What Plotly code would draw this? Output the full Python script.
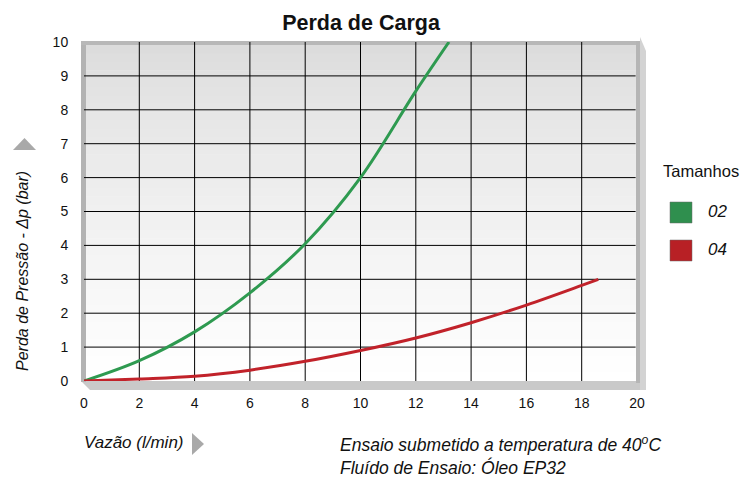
import plotly.graph_objects as go

# ---------------- data ----------------
flow_02 = [0, 2, 4, 6, 8, 10, 12, 13.2]
dp_02 = [0, 0.6, 1.45, 2.6, 4.05, 6.0, 8.55, 10.0]
flow_04 = [0, 2, 4, 6, 8, 10, 12, 14, 16, 18, 18.6]
dp_04 = [0, 0.06, 0.14, 0.32, 0.58, 0.9, 1.27, 1.72, 2.24, 2.82, 3.0]
series_names = ["02", "04"]
x_ticks = list(range(0, 21, 2))
y_ticks = list(range(0, 11))
title_text = "Perda de Carga"
y_title = "Perda de Pressão - Δp (bar)"
x_title = "Vazão (l/min)"
legend_title = "Tamanhos"
notes = ["Ensaio submetido a temperatura de 40<sup>o</sup>C", "Fluído de Ensaio: Óleo EP32"]

# ---------------- style ----------------
W, H = 756, 477
ML, MR, MT, MB = 84, 119, 42, 96
PW, PH = W - ML - MR, H - MT - MB
FONT = "Liberation Sans, Arial, Helvetica, sans-serif"
colors = ["#2e9a50", "#c1222a"]
sq_colors = ["#2f8f4e", "#b82025"]


def px(x):
    return (x - ML) / PW


def py(y):
    return (MT + PH - y) / PH


fig = go.Figure()
for xs, ys, name, c in [(flow_02, dp_02, series_names[0], colors[0]),
                        (flow_04, dp_04, series_names[1], colors[1])]:
    fig.add_trace(go.Scatter(x=xs, y=ys, mode="lines", name=name,
                             line=dict(color=c, width=3, shape="spline", smoothing=1.0),
                             cliponaxis=False, showlegend=False, hoverinfo="x+y+name"))

shapes = []
# gradient background of plot area
n = 40
top, bot = 45, 381
for i in range(n):
    y0 = top + (bot - top) * i / n
    y1 = top + (bot - top) * (i + 1) / n
    t = i / (n - 1)
    v = int(round(220 + (255 - 220) * (t ** 0.8)))
    shapes.append(dict(type="rect", xref="paper", yref="paper", layer="below",
                       x0=px(86), x1=px(636), y0=py(y1 + 0.5), y1=py(y0),
                       fillcolor=f"rgb({v},{v},{v})", line=dict(width=0)))


def path(points, fill):
    d = "M " + " L ".join(f"{px(a)},{py(b)}" for a, b in points) + " Z"
    return dict(type="path", xref="paper", yref="paper", layer="below", path=d,
                fillcolor=fill, line=dict(width=0))


# frame
shapes.append(path([(81, 381), (646, 381), (646, 390), (90, 390)], "#c9c9c9"))
shapes.append(path([(81, 41), (86, 41), (86, 382), (81, 382)], "#b3b3b3"))
shapes.append(path([(81, 41), (640, 41), (640, 45), (81, 45)], "#b8b8b8"))
shapes.append(path([(636, 41), (640, 41), (640, 383), (636, 383)], "#b5b5b5"))
shapes.append(path([(640, 37), (646, 51), (646, 390), (640, 390)], "#d3d3d3"))

# grid lines
for xv in x_ticks[1:-1]:
    shapes.append(dict(type="line", xref="x", yref="y", layer="below",
                       x0=xv, x1=xv, y0=-0.2, y1=10, line=dict(color="#000000", width=1)))
for yv in y_ticks[1:-1]:
    shapes.append(dict(type="line", xref="x", yref="y", layer="below",
                       x0=-0.07, x1=19.95, y0=yv, y1=yv, line=dict(color="#000000", width=1)))

# arrows
shapes.append(dict(type="path", xref="paper", yref="paper",
                   path=f"M {px(13)},{py(150)} L {px(36)},{py(150)} L {px(24.5)},{py(138)} Z",
                   fillcolor="#a9a9a9", line=dict(width=0)))
shapes.append(dict(type="path", xref="paper", yref="paper",
                   path=f"M {px(192)},{py(433)} L {px(192)},{py(455)} L {px(204)},{py(444)} Z",
                   fillcolor="#a9a9a9", line=dict(width=0)))

annotations = []
# legend
annotations.append(dict(xref="paper", yref="paper", x=px(661), y=py(171), xanchor="left",
                        yanchor="middle", showarrow=False, text=legend_title,
                        font=dict(family=FONT, size=16.5, color="#111111")))
for i, name in enumerate(series_names):
    y0 = 202 + 38 * i
    shapes.append(dict(type="rect", xref="paper", yref="paper",
                       x0=px(670), x1=px(692), y0=py(y0 + 21), y1=py(y0),
                       fillcolor=sq_colors[i], line=dict(color="#6a6a6a", width=0.5)))
    annotations.append(dict(xref="paper", yref="paper", x=px(706), y=py(y0 + 9),
                            xanchor="left", yanchor="middle", showarrow=False,
                            text=f"<i>{name}</i>",
                            font=dict(family=FONT, size=17, color="#111111")))

# axis titles and notes
annotations.append(dict(xref="paper", yref="paper", x=px(22), y=py(271), textangle=-90,
                        xanchor="center", yanchor="middle", showarrow=False,
                        text=f"<i>{y_title}</i>",
                        font=dict(family=FONT, size=16, color="#111111")))
annotations.append(dict(xref="paper", yref="paper", x=px(82), y=py(443), xanchor="left",
                        yanchor="middle", showarrow=False, text=f"<i>{x_title}</i>",
                        font=dict(family=FONT, size=17, color="#111111")))
for i, note in enumerate(notes):
    annotations.append(dict(xref="paper", yref="paper", x=px(338), y=py(444 + 23 * i),
                            xanchor="left", yanchor="middle", showarrow=False,
                            text=f"<i>{note}</i>",
                            font=dict(family=FONT, size=17.5, color="#111111")))

fig.update_layout(
    width=W, height=H,
    margin=dict(l=ML, r=MR, t=MT, b=MB),
    paper_bgcolor="#ffffff", plot_bgcolor="rgba(0,0,0,0)",
    title=dict(text=f"<b>{title_text}</b>", x=361 / W, xref="container", xanchor="center",
               y=1 - 22 / H, yanchor="middle",
               font=dict(family=FONT, size=21.5, color="#111111")),
    xaxis=dict(range=[0, 20], tickvals=x_ticks, ticktext=[str(v) for v in x_ticks],
               showgrid=False, zeroline=False, showline=False,
               ticks="outside", ticklen=9, tickcolor="rgba(0,0,0,0)",
               tickfont=dict(family=FONT, size=14, color="#111111"), fixedrange=True),
    yaxis=dict(range=[0, 10], tickvals=y_ticks, ticktext=[str(v) for v in y_ticks],
               showgrid=False, zeroline=False, showline=False,
               ticks="outside", ticklen=12, tickcolor="rgba(0,0,0,0)",
               tickfont=dict(family=FONT, size=14, color="#111111"), fixedrange=True),
    shapes=shapes, annotations=annotations, showlegend=False,
)

fig.write_html("out.html", config={"displayModeBar": False},
               post_script="document.body.style.margin='0';document.body.style.overflow='hidden';")
